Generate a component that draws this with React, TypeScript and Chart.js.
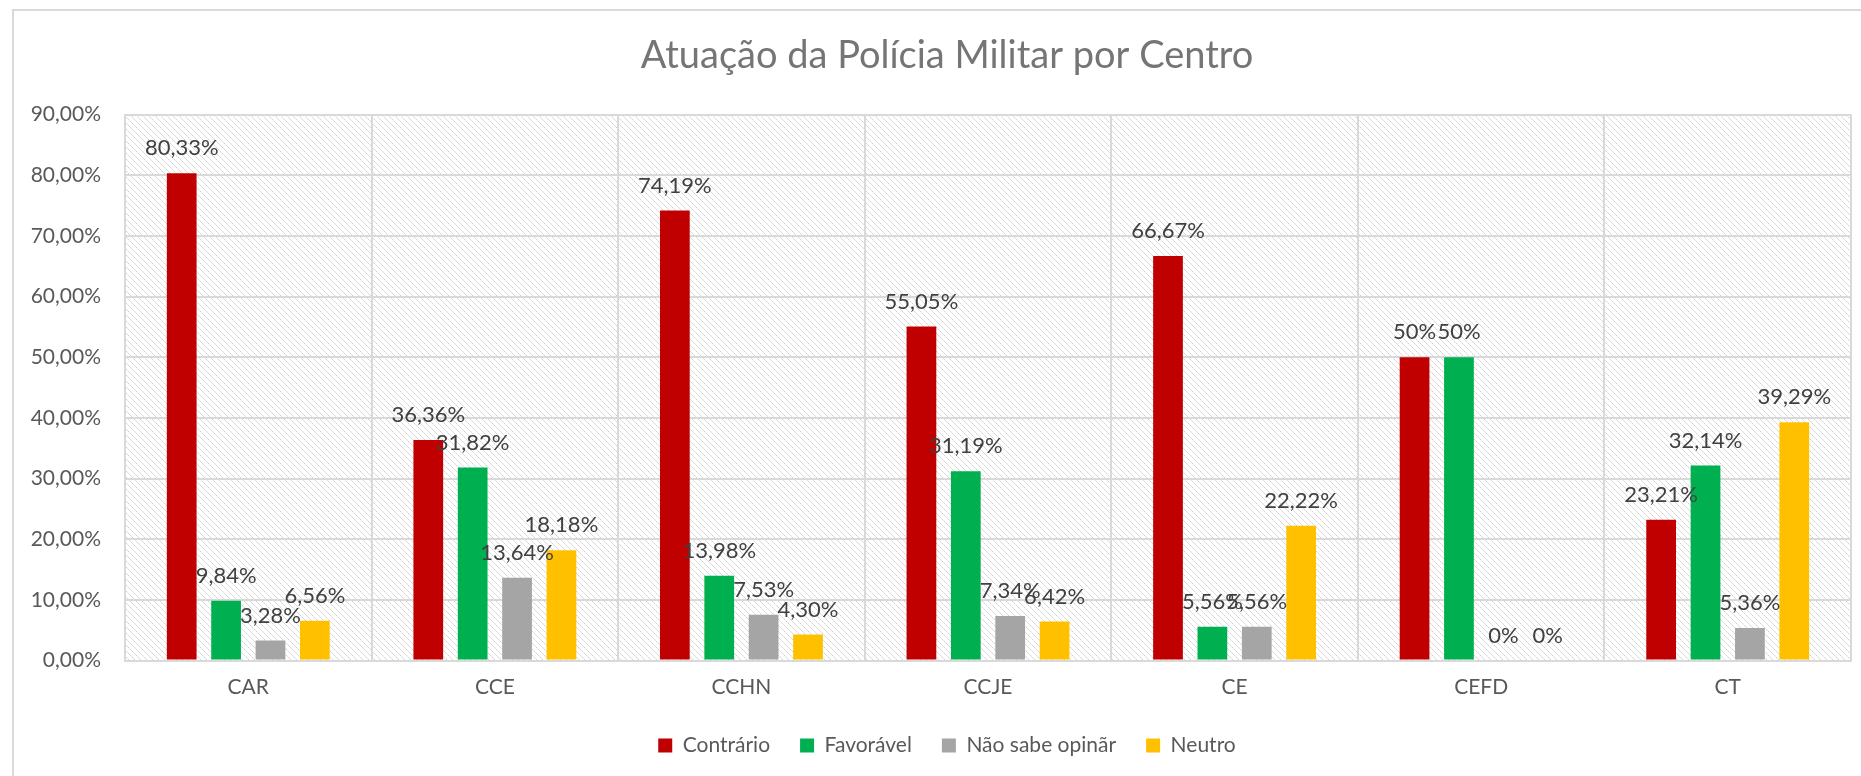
import React, { useEffect, useRef } from 'react';
import { Chart, registerables } from 'chart.js';

Chart.register(...registerables);

const categories = ['CAR', 'CCE', 'CCHN', 'CCJE', 'CE', 'CEFD', 'CT'];
const contrario = [80.33, 36.36, 74.19, 55.05, 66.67, 50, 23.21];
const favoravel = [9.84, 31.82, 13.98, 31.19, 5.56, 50, 32.14];
const naoSabe = [3.28, 13.64, 7.53, 7.34, 5.56, 0, 5.36];
const neutro = [6.56, 18.18, 4.3, 6.42, 22.22, 0, 39.29];
const seriesNames = ['Contrário', 'Favorável', 'Não sabe opinãr', 'Neutro'];
const seriesColors = ['#C00000', '#00B050', '#A5A5A5', '#FFC000'];
const yMin = 0;
const yMax = 90;
const yStep = 10;
const titleText = 'Atuação da Polícia Militar por Centro';

const FONT = 'Lato, "Open Sans", sans-serif';

const fmtLabel = (v: number) =>
  Number.isInteger(v) ? `${v}%` : v.toFixed(2).replace('.', ',') + '%';
const fmtTick = (v: number) => v.toFixed(2).replace('.', ',') + '%';

const hatchPlugin = {
  id: 'hatchBg',
  beforeDraw(chart: any) {
    const { ctx, chartArea: a } = chart;
    const n = 6;
    const p = document.createElement('canvas');
    p.width = n;
    p.height = n;
    const pc = p.getContext('2d')!;
    pc.fillStyle = '#ffffff';
    pc.fillRect(0, 0, n, n);
    for (let i = 0; i < n; i++) {
      pc.fillStyle = i % 2 === 0 ? '#d2d2d2' : '#e2e2e2';
      pc.fillRect(i, i, 1, 1);
    }
    ctx.save();
    ctx.fillStyle = ctx.createPattern(p, 'repeat');
    ctx.fillRect(a.left, a.top, a.right - a.left, a.bottom - a.top);
    ctx.restore();
  },
};

// let the y tick labels extend left of the (narrowed) y-axis box
const noClipYPlugin = {
  id: 'noClipY',
  afterLayout(chart: any) {
    const y = chart.scales.y;
    if (y) y._computeLabelArea = () => undefined;
  },
};

const labelPlugin = {
  id: 'valueLabels',
  afterDatasetsDraw(chart: any) {
    const ctx = chart.ctx;
    ctx.save();
    ctx.font = `22px ${FONT}`;
    ctx.fillStyle = '#404040';
    ctx.textAlign = 'center';
    ctx.textBaseline = 'middle';
    chart.data.datasets.forEach((ds: any, i: number) => {
      const meta = chart.getDatasetMeta(i);
      meta.data.forEach((bar: any, j: number) => {
        ctx.fillText(fmtLabel(ds.data[j]), bar.x, bar.y - 25);
      });
    });
    ctx.restore();
  },
};

export default function App() {
  const ref = useRef<HTMLCanvasElement>(null);
  useEffect(() => {
    if (!ref.current) return;
    const seriesData = [contrario, favoravel, naoSabe, neutro];
    const chart = new Chart(ref.current, {
      type: 'bar',
      data: {
        labels: categories,
        datasets: seriesNames.map((name, i) => ({
          label: name,
          data: seriesData[i],
          backgroundColor: seriesColors[i],
          borderWidth: 0,
          categoryPercentage: 0.72,
          barPercentage: 0.67,
        })),
      },
      options: {
        responsive: false,
        animation: false,
        devicePixelRatio: 1,
        layout: { padding: { left: 29, right: 29, top: 0, bottom: 35 } },
        plugins: {
          title: {
            display: true,
            text: titleText,
            color: '#757575',
            font: { family: FONT, size: 38, weight: 'normal' },
            padding: { top: 22, bottom: 36 },
          },
          legend: {
            display: true,
            position: 'bottom',
            labels: {
              boxWidth: 14,
              boxHeight: 14,
              padding: 30,
              color: '#595959',
              font: { family: FONT, size: 21 },
            },
          },
          tooltip: { enabled: false },
        },
        scales: {
          x: {
            grid: { color: '#d9d9d9', lineWidth: 2, drawTicks: false, offset: true },
            border: { color: '#d9d9d9', width: 2 },
            ticks: { color: '#595959', font: { family: FONT, size: 21 }, padding: 14 },
            afterFit: (s: any) => {
              s.height = 44.5;
            },
          },
          y: {
            min: yMin,
            max: yMax,
            grid: { color: '#d9d9d9', lineWidth: 2, drawTicks: false },
            border: { color: '#d9d9d9', width: 2 },
            ticks: {
              stepSize: yStep,
              color: '#595959',
              font: { family: FONT, size: 21 },
              padding: 24,
              callback: (v: any) => fmtTick(Number(v)),
            },
            afterFit: (s: any) => {
              s.width = 82;
            },
          },
        },
      },
      plugins: [hatchPlugin, noClipYPlugin, labelPlugin],
    });
    return () => chart.destroy();
  }, []);

  return (
    <div style={{ position: 'fixed', left: 0, top: 0, width: '100vw', height: '100vh', overflow: 'hidden', background: '#fff' }}>
      <div
        style={{
          position: 'absolute',
          left: 12,
          top: 9,
          width: 1870,
          height: 794,
          border: '2px solid #d9d9d9',
          boxSizing: 'content-box',
        }}
      >
        <canvas ref={ref} width={1866} height={790} style={{ display: 'block', width: 1866, height: 790 }} />
      </div>
    </div>
  );
}
